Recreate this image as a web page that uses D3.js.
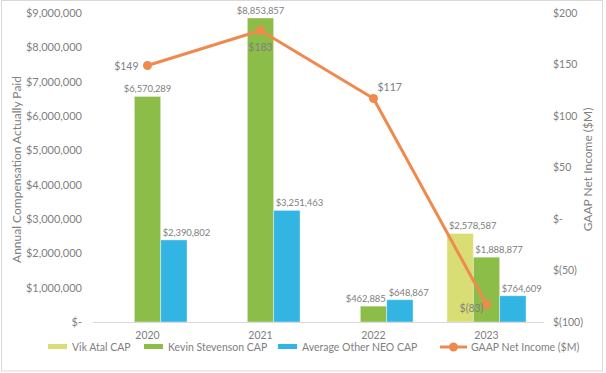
<!DOCTYPE html>
<html>
<head>
<meta charset="utf-8">
<script src="https://cdn.jsdelivr.net/npm/d3@7"></script>
<style>
    body { margin: 0; background: #fff; }
    text { font-family: Lato, "Open Sans", sans-serif; fill: #808080; }
</style>
</head>
<body>
<div id="chart"></div>
<script>
// chart values
const years = ["2020", "2021", "2022", "2023"];
const vikCap = [null, null, null, 2578587];
const kevinCap = [6570289, 8853857, 462885, 1888877];
const neoCap = [2390802, 3251463, 648867, 764609];
const netIncome = [149, 183, 117, -83];

const leftTicks = [0, 1000000, 2000000, 3000000, 4000000, 5000000, 6000000, 7000000, 8000000, 9000000];
const rightTicks = [-100, -50, 0, 50, 100, 150, 200];

const seriesNames = ["Vik Atal CAP", "Kevin Stevenson CAP", "Average Other NEO CAP"];
const seriesColors = ["#d8de74", "#8cbd48", "#33b5e4"];
const lineColor = "#ef8a4f";

function draw() {
    const width = 606, height = 373;
    const plot = { left: 91, right: 543, top: 13, bottom: 322 };

    const svg = d3.select("#chart")
        .append("svg")
        .attr("width", width)
        .attr("height", height);

    // outer frame
    svg.append("rect")
        .attr("x", 1.5).attr("y", 0.5)
        .attr("width", 601).attr("height", 370.5)
        .attr("fill", "none")
        .attr("stroke", "#d9d9d9");

    const x0 = d3.scaleBand()
        .domain(years)
        .range([plot.left, plot.right])
        .paddingInner(0.3)
        .paddingOuter(0.15);

    const x1 = d3.scaleBand()
        .domain([0, 1, 2])
        .range([0, x0.bandwidth()]);

    const yLeft = d3.scaleLinear()
        .domain([0, 9000000])
        .range([plot.bottom, plot.top]);

    const yRight = d3.scaleLinear()
        .domain([-100, 200])
        .range([plot.bottom, plot.top]);

    const money = d3.format("$,");

    // left axis
    const leftAxis = svg.append("g")
        .attr("transform", "translate(82,0)")
        .call(d3.axisLeft(yLeft).tickValues(leftTicks).tickSize(0).tickPadding(0)
            .tickFormat(d => d === 0 ? "$-" : money(d)));
    leftAxis.select(".domain").remove();
    leftAxis.selectAll("text")
        .style("font-size", "11px")
        .attr("fill", "#808080");

    // right axis
    const rightAxis = svg.append("g")
        .attr("transform", "translate(553,0)")
        .call(d3.axisRight(yRight).tickValues(rightTicks).tickSize(0).tickPadding(0)
            .tickFormat(d => d === 0 ? "$-" : d < 0 ? "$(" + (-d) + ")" : "$" + d));
    rightAxis.select(".domain").remove();
    rightAxis.selectAll("text")
        .style("font-size", "10.5px")
        .attr("fill", "#808080");

    // axis titles
    svg.append("text")
        .text("Annual Compensation Actually Paid")
        .attr("transform", `translate(21,${(plot.top + plot.bottom) / 2 + 2}) rotate(-90)`)
        .attr("text-anchor", "middle")
        .style("font-size", "12px");

    svg.append("text")
        .text("GAAP Net Income ($M)")
        .attr("transform", `translate(592,${(plot.top + plot.bottom) / 2 + 2}) rotate(-90)`)
        .attr("text-anchor", "middle")
        .style("font-size", "12px");

    // bars
    const series = [vikCap, kevinCap, neoCap];
    const barData = [];
    years.forEach((yr, i) => {
        series.forEach((s, k) => {
            if (s[i] != null) barData.push({ year: yr, k: k, value: s[i] });
        });
    });

    svg.append("g")
        .selectAll("rect")
        .data(barData)
        .enter()
        .append("rect")
        .attr("x", d => x0(d.year) + x1(d.k))
        .attr("y", d => yLeft(d.value))
        .attr("width", x1.bandwidth())
        .attr("height", d => plot.bottom - yLeft(d.value))
        .attr("fill", d => seriesColors[d.k])
        .attr("stroke", "#ffffff")
        .attr("stroke-opacity", 0.5)
        .attr("stroke-width", 0.8);

    // baseline
    svg.append("line")
        .attr("x1", plot.left + 2).attr("x2", plot.right + 1)
        .attr("y1", plot.bottom + 0.5).attr("y2", plot.bottom + 0.5)
        .attr("stroke", "#d9d9d9")
        .attr("stroke-width", 1);

    // x labels
    svg.append("g")
        .selectAll("text")
        .data(years)
        .enter()
        .append("text")
        .text(d => d)
        .attr("x", d => x0(d) + x0.bandwidth() / 2)
        .attr("y", plot.bottom + 17)
        .attr("text-anchor", "middle")
        .style("font-size", "10.5px");

    // bar labels: anchor per label (in barData order), as placed in the original
    const barLabelAnchor = ["middle", "start", "middle", "start", "end", "start", "start", "start", "start"];
    const labelX = (d, i) => {
        const bx = x0(d.year) + x1(d.k);
        const a = barLabelAnchor[i];
        if (a === "start") return bx + 2;
        if (a === "end") return bx + x1.bandwidth() - 1;
        return bx + x1.bandwidth() / 2;
    };
    svg.append("g")
        .selectAll("text")
        .data(barData)
        .enter()
        .append("text")
        .text(d => money(d.value))
        .attr("x", labelX)
        .attr("y", d => yLeft(d.value) - 4)
        .attr("text-anchor", (d, i) => barLabelAnchor[i])
        .style("font-size", "9.5px")
        .style("letter-spacing", "-0.1px");

    // net income line
    const cx = d => x0(d) + x0.bandwidth() / 2;
    const line = d3.line()
        .x((d, i) => cx(years[i]))
        .y(d => yRight(d));

    svg.append("path")
        .datum(netIncome)
        .attr("d", line)
        .attr("fill", "none")
        .attr("stroke", lineColor)
        .attr("stroke-width", 3)
        .attr("stroke-linejoin", "round");

    svg.append("g")
        .selectAll("circle")
        .data(netIncome)
        .enter()
        .append("circle")
        .attr("cx", (d, i) => cx(years[i]))
        .attr("cy", d => yRight(d))
        .attr("r", 4.5)
        .attr("fill", lineColor);

    // label placement for line points: [dx, dy, anchor]
    const lineLabelPlace = [[-9, 4, "end"], [0, 20, "middle"], [4, -7, "start"], [-15, 8, "middle"]];
    svg.append("g")
        .selectAll("text")
        .data(netIncome)
        .enter()
        .append("text")
        .text(d => d < 0 ? "$(" + (-d) + ")" : "$" + d)
        .attr("x", (d, i) => cx(years[i]) + lineLabelPlace[i][0])
        .attr("y", (d, i) => yRight(d) + lineLabelPlace[i][1])
        .attr("text-anchor", (d, i) => lineLabelPlace[i][2])
        .style("font-size", "10.5px");

    // legend
    const legendY = 347;
    const legendX = [48, 144, 278];
    const legend = svg.append("g");
    seriesNames.forEach((name, k) => {
        legend.append("rect")
            .attr("x", legendX[k]).attr("y", legendY - 3)
            .attr("width", 19).attr("height", 5)
            .attr("fill", seriesColors[k]);
        legend.append("text")
            .text(name)
            .attr("x", legendX[k] + 24)
            .attr("y", legendY + 4)
            .style("font-size", "10.5px");
    });
    legend.append("line")
        .attr("x1", 440).attr("x2", 467)
        .attr("y1", legendY).attr("y2", legendY)
        .attr("stroke", lineColor)
        .attr("stroke-width", 3);
    legend.append("circle")
        .attr("cx", 453.5).attr("cy", legendY)
        .attr("r", 4.5)
        .attr("fill", lineColor);
    legend.append("text")
        .text("GAAP Net Income ($M)")
        .attr("x", 471)
        .attr("y", legendY + 4)
        .style("font-size", "10.5px");
}

window.addEventListener("load", draw);
</script>
</body>
</html>
